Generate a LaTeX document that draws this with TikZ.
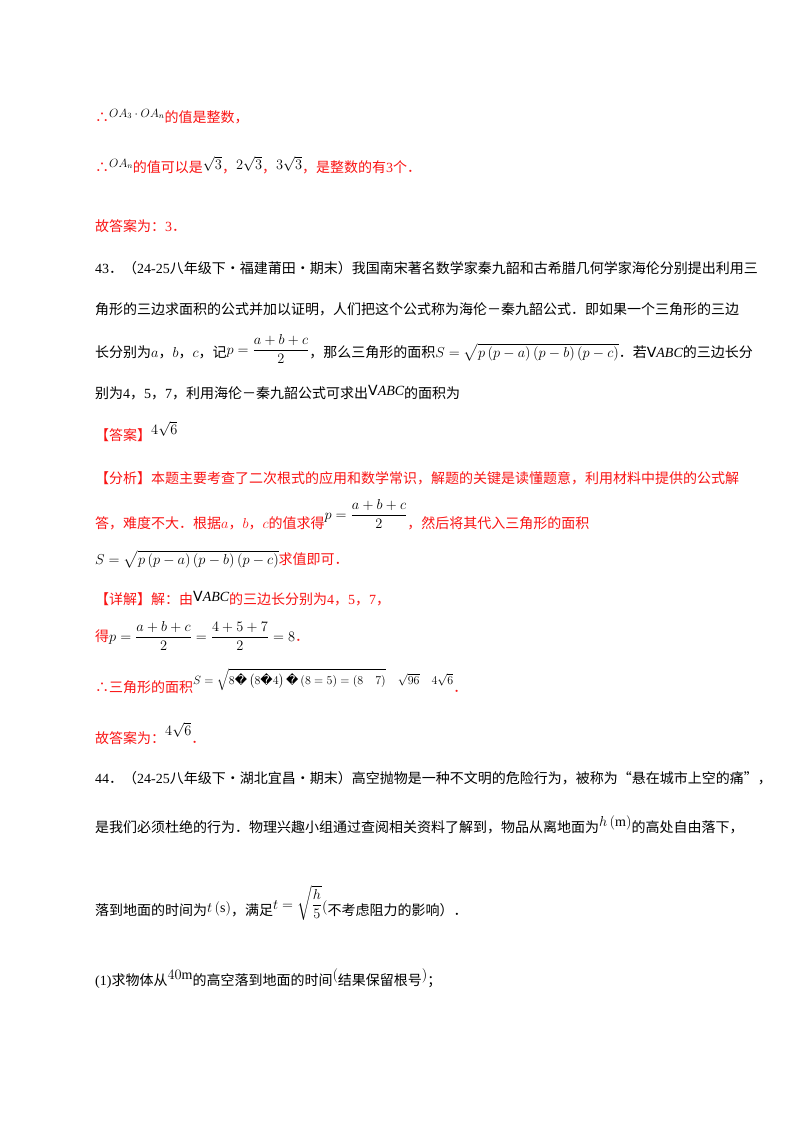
\documentclass[tikz,border=0pt]{standalone}
\usepackage{amsmath}
\usepackage{fontspec}
\setmainfont{Noto Sans CJK SC}
\newfontfamily\tm{Liberation Serif}
\newfontfamily\dv{DejaVu Sans}
\definecolor{rd}{RGB}{250,20,20}
\tikzset{ln/.style={anchor=base west,inner sep=0pt,font=\fontsize{14}{16}\selectfont},
 rl/.style={ln,text=rd}}
\newcommand{\V}{\text{\dv V}\text{\tm\itshape ABC}}
\newcommand{\rmm}[1]{\text{\tm #1}}
\newcommand{\q}{\text{\dv\char"FFFD}}
\newcommand{\sm}[1]{{\fontsize{12}{14}\selectfont$#1$}}
\begin{document}
\begin{tikzpicture}[x=1pt,y=-1pt]
\useasboundingbox[fill=white] (0,0) rectangle (800,1132);
\node[rl] (l1) at (95,122) {∴\raisebox{5pt}{\color{black}\sm{OA_3\cdot OA_n}}的值是整数，};
\node[rl] (l2) at (95,172) {∴\raisebox{5pt}{\color{black}\sm{OA_n}}的值可以是\raisebox{3pt}{\color{black}$\sqrt3$}，\raisebox{3pt}{\color{black}$2\sqrt3$}，\raisebox{3pt}{\color{black}$3\sqrt3$}，是整数的有{\tm 3}个．};
\node[rl] (l3) at (95,231) {故答案为：{\tm 3}．};
\node[ln] (l4) at (95,273) {{\tm 43}．（{\tm 24-25}八年级下·福建莆田·期末）我国南宋著名数学家秦九韶和古希腊几何学家海伦分别提出利用三};
\node[ln] (l5) at (95,314) {角形的三边求面积的公式并加以证明，人们把这个公式称为海伦－秦九韶公式．即如果一个三角形的三边};
\node[ln] (l6) at (95,357) {长分别为$a$，$b$，$c$，记\raisebox{3pt}{$p=\dfrac{a+b+c}{2}$}，那么三角形的面积$S=\sqrt{p\left(p-a\right)\left(p-b\right)\left(p-c\right)}$．若$\V$的三边长分};
\node[ln] (l7) at (95,398) {别为{\tm 4}，{\tm 5}，{\tm 7}，利用海伦－秦九韶公式可求出\raisebox{3pt}{$\V$}的面积为};
\node[rl] (l8) at (95,440) {【答案】\raisebox{6pt}{\color{black}$4\sqrt6$}};
\node[rl] (l9) at (95,483) {【分析】本题主要考查了二次根式的应用和数学常识，解题的关键是读懂题意，利用材料中提供的公式解};
\node[rl] (l10) at (95,528) {答，难度不大．根据$a$，$b$，$c$的值求得\raisebox{9pt}{\color{black}$p=\dfrac{a+b+c}{2}$}，然后将其代入三角形的面积};
\node[rl] (l11) at (95,564) {\color{black}$S=\sqrt{p\left(p-a\right)\left(p-b\right)\left(p-c\right)}$\color{rd}求值即可．};
\node[rl] (l12) at (95,604) {【详解】解：由\raisebox{3pt}{\color{black}$\V$}\color{rd}的三边长分别为{\tm 4}，{\tm 5}，{\tm 7}，};
\node[rl] (l13) at (95,641) {得\color{black}$p=\dfrac{a+b+c}{2}=\dfrac{4+5+7}{2}=8$\color{rd}．};
\node[rl] (l14) at (95,692) {∴三角形的面积\raisebox{8pt}{\color{black}\sm{S=\sqrt{8\q\left(8\q4\right)\q\left(8=5\right)=\left(8\quad7\right)}\quad\sqrt{96}\quad4\sqrt6}}．};
\node[rl] (l15) at (95,743) {故答案为：\raisebox{8pt}{\color{black}$4\sqrt6$}．};
\node[ln] (l16) at (95,783) {{\tm 44}．（{\tm 24-25}八年级下·湖北宜昌·期末）高空抛物是一种不文明的危险行为，被称为“悬在城市上空的痛”，};
\node[ln] (l17) at (95,832) {是我们必须杜绝的行为．物理兴趣小组通过查阅相关资料了解到，物品从离地面为\raisebox{6pt}{$h\left(\rmm{m}\right)$}的高处自由落下，};
\node[ln] (l18) at (95,915) {落到地面的时间为\raisebox{3pt}{$t\left(\rmm{s}\right)$}，满足\raisebox{6pt}{$t=\sqrt{\dfrac h5}$}\raisebox{4pt}{$($}不考虑阻力的影响）．};
\node[ln] (l19) at (95,985) {{\tm (1)}求物体从\raisebox{6pt}{$40\rmm{m}$}的高空落到地面的时间\raisebox{6pt}{$($}结果保留根号\raisebox{6pt}{$)$}；};
\end{tikzpicture}
\end{document}
